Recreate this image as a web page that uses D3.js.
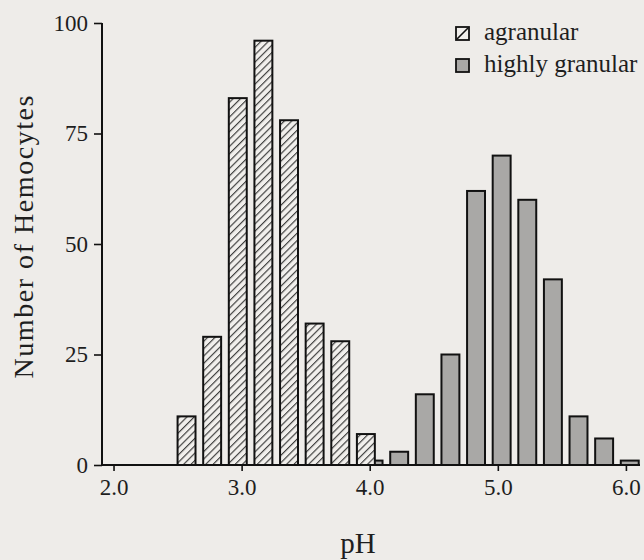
<!DOCTYPE html>
<html>
<head>
<meta charset="utf-8">
<script src="https://cdn.jsdelivr.net/npm/d3@7"></script>
<style>
  body { margin: 0; background: #eeece9; }
  svg { display: block; }
  text { font-family: "Times New Roman", Times, "Liberation Serif", serif; fill: #1e1e1e; }
</style>
</head>
<body>
<script>
var width = 644
var height = 560

// bin centres (pH) and counts
var agranularPH = [2.57, 2.77, 2.97, 3.17, 3.37, 3.57, 3.77, 3.97]
var agranularCount = [11, 29, 83, 96, 78, 32, 28, 7]
var granularPH = [4.03, 4.23, 4.43, 4.63, 4.83, 5.03, 5.23, 5.43, 5.63, 5.83, 6.03]
var granularCount = [1, 3, 16, 25, 62, 70, 60, 42, 11, 6, 1]
var xTicks = [2, 3, 4, 5, 6]
var yTicks = [0, 25, 50, 75, 100]
var legendLabels = ["agranular", "highly granular"]

var binHalf = 0.07
var serif = '"Times New Roman", Times, "Liberation Serif", serif'

var svg = d3.select("body").append("svg")
    .attr("width", width)
    .attr("height", height)

var x = d3.scaleLinear().domain([1.91, 6.11]).range([102, 640])
var y = d3.scaleLinear().domain([0, 100]).range([465, 23])

// hatch for agranular
var defs = svg.append("defs")
defs.append("pattern")
    .attr("id", "hatch")
    .attr("patternUnits", "userSpaceOnUse")
    .attr("width", 5.2)
    .attr("height", 5.2)
    .attr("patternTransform", "rotate(45)")
  .call(function(p) {
      p.append("rect").attr("width", 5.2).attr("height", 5.2).attr("fill", "#f1efec")
      p.append("line").attr("x1", 0.6).attr("y1", 0).attr("x2", 0.6).attr("y2", 5.2)
          .attr("stroke", "#333").attr("stroke-width", 1.1)
  })

var granular = granularPH.map(function(d, i) { return {ph: d, n: granularCount[i]} })
var agranular = agranularPH.map(function(d, i) { return {ph: d, n: agranularCount[i]} })

// highly granular drawn first so the agranular bar covers its neighbour at pH 4
svg.append("g").selectAll("rect")
    .data(granular)
    .enter()
    .append("rect")
    .attr("x", function(d) { return x(d.ph - binHalf) })
    .attr("width", function(d) { return x(d.ph + binHalf) - x(d.ph - binHalf) })
    .attr("y", function(d) { return y(d.n) })
    .attr("height", function(d) { return y(0) - y(d.n) })
    .attr("fill", "#a9a8a6")
    .attr("stroke", "#111")
    .attr("stroke-width", 2)

svg.append("g").selectAll("rect")
    .data(agranular)
    .enter()
    .append("rect")
    .attr("x", function(d) { return x(d.ph - binHalf) })
    .attr("width", function(d) { return x(d.ph + binHalf) - x(d.ph - binHalf) })
    .attr("y", function(d) { return y(d.n) })
    .attr("height", function(d) { return y(0) - y(d.n) })
    .attr("fill", "url(#hatch)")
    .attr("stroke", "#111")
    .attr("stroke-width", 2)

// axes
var xAxis = svg.append("g")
    .attr("transform", "translate(0," + y(0) + ")")
    .call(d3.axisBottom(x).tickValues(xTicks).tickFormat(d3.format(".1f")).tickSize(6).tickPadding(8))
var yAxis = svg.append("g")
    .attr("transform", "translate(" + x.range()[0] + ",0)")
    .call(d3.axisLeft(y).tickValues(yTicks).tickSize(8).tickPadding(6))

svg.selectAll(".domain").attr("stroke", "#111").attr("stroke-width", 2)
xAxis.select(".domain").attr("d", "M" + x.range()[0] + ",0H" + x.range()[1])
yAxis.select(".domain").attr("d", "M0," + y(0) + "V" + y(100))
svg.selectAll(".tick line").attr("stroke", "#111").attr("stroke-width", 1.6)
svg.selectAll("g").attr("font-family", null).attr("font-size", null)
svg.selectAll(".tick text")
    .style("font-family", serif)
    .style("font-size", "23px")
    .attr("fill", "#1e1e1e")

// axis titles
svg.append("text")
    .attr("x", 358)
    .attr("y", 553)
    .attr("text-anchor", "middle")
    .style("font-size", "29px")
    .text("pH")

svg.append("text")
    .attr("transform", "translate(33,237) rotate(-90)")
    .attr("text-anchor", "middle")
    .attr("textLength", 283)
    .style("font-size", "28px")
    .text("Number of Hemocytes")

// legend
var legend = svg.append("g").attr("transform", "translate(456,27)")
var item = legend.selectAll("g")
    .data(legendLabels)
    .enter()
    .append("g")
    .attr("transform", function(d, i) { return "translate(0," + (i * 32) + ")" })

item.append("rect")
    .attr("width", 13)
    .attr("height", 13)
    .attr("fill", function(d, i) { return i == 0 ? "#f1efec" : "#a9a8a6" })
    .attr("stroke", "#111")
    .attr("stroke-width", 1.8)
item.filter(function(d, i) { return i == 0 })
    .append("line")
    .attr("x1", 1).attr("y1", 12).attr("x2", 12).attr("y2", 1)
    .attr("stroke", "#111").attr("stroke-width", 1.6)

item.append("text")
    .attr("x", 28)
    .attr("y", 13)
    .style("font-size", "25px")
    .text(function(d) { return d })
</script>
</body>
</html>
